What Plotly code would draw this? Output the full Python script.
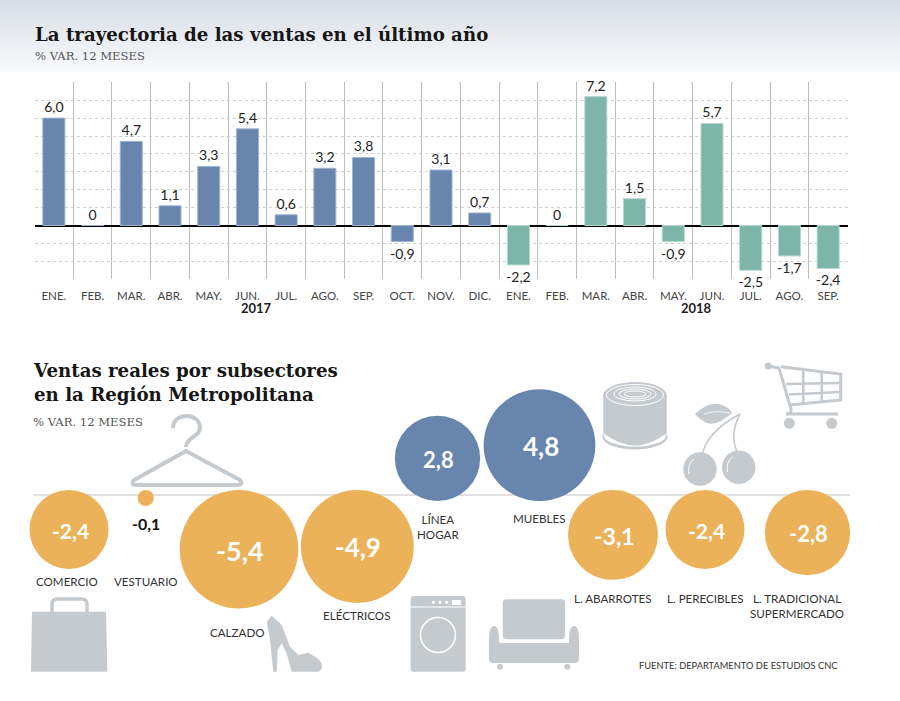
import numpy as np
import plotly.graph_objects as go

# first chart: % var. 12 months
months = ['ENE.', 'FEB.', 'MAR.', 'ABR.', 'MAY.', 'JUN.', 'JUL.', 'AGO.', 'SEP.', 'OCT.', 'NOV.', 'DIC.',
          'ENE.', 'FEB.', 'MAR.', 'ABR.', 'MAY.', 'JUN.', 'JUL.', 'AGO.', 'SEP.']
sales_2017 = [6.0, 0, 4.7, 1.1, 3.3, 5.4, 0.6, 3.2, 3.8, -0.9, 3.1, 0.7]
sales_2018 = [-2.2, 0, 7.2, 1.5, -0.9, 5.7, -2.5, -1.7, -2.4]

# second chart: subsectors
sectors = ['COMERCIO', 'VESTUARIO', 'CALZADO', 'ELÉCTRICOS', 'LÍNEA<br>HOGAR', 'MUEBLES',
           'L. ABARROTES', 'L. PERECIBLES', 'L. TRADICIONAL<br>SUPERMERCADO']
sector_values = [-2.4, -0.1, -5.4, -4.9, 2.8, 4.8, -3.1, -2.4, -2.8]

# page layout, in pixels of the 900x701 picture
W, H = 900, 701
bubble_x = [69, 145.7, 239, 357.3, 437.5, 539.5, 613, 705, 807.5]
sector_label_x = [67.3, 145.7, 237.3, 356, 438, 539.3, 613.3, 705, 797.3]
sector_label_y = [581.7, 581.7, 632.3, 615.3, 526.5, 518.3, 598.3, 598.3, 606.3]
PX_PER_SQRT = 25.5  # bubble radius per sqrt(|value|)

BLUE = '#6785ad'
GREEN = '#7eb5a9'
ORANGE = '#ecb25a'
GREY = '#c5cacf'
SANS = 'Lato'
SERIF = 'DejaVu Serif'


def fmt(v):
    return '0' if v == 0 else f'{v:.1f}'.replace('.', ',')


def note(x, y, text, size=12, color='#333333', family=SANS, anchor='center'):
    return dict(x=x, y=y, xref='x2', yref='y2', text=text, showarrow=False, xanchor=anchor, yanchor='middle',
                font=dict(family=family, size=size, color=color), align=anchor)


def solid(path, color=GREY):
    return dict(type='path', path=path, xref='x2', yref='y2', fillcolor=color, line_width=0, layer='above')


def stroke(path, width, color=GREY):
    return dict(type='path', path=path, xref='x2', yref='y2', line=dict(color=color, width=width), layer='above')


def oval(cx, cy, rx, ry=None, fill=GREY, line=None, width=0):
    ry = rx if ry is None else ry
    return dict(type='circle', x0=cx - rx, x1=cx + rx, y0=cy - ry, y1=cy + ry, xref='x2', yref='y2',
                fillcolor=fill, line=dict(color=line or 'rgba(0,0,0,0)', width=width), layer='above')


fig = go.Figure()

# header band
fig.add_trace(go.Scatter(x=[0, W, W, 0], y=[0, 0, 72, 72], xaxis='x2', yaxis='y2', mode='none', fill='toself',
                         fillgradient=dict(type='vertical', colorscale=[[0, '#f8f9fb'], [1, '#d8dee6']]),
                         hoverinfo='skip'))

idx = np.arange(len(months))
for xs, vals, color, edge in [(idx[:12], sales_2017, BLUE, '#a3b6cf'), (idx[12:], sales_2018, GREEN, '#b5d8d0')]:
    fig.add_trace(go.Bar(x=xs, y=vals, width=0.57, marker=dict(color=color, line=dict(color=edge, width=1)),
                         text=[fmt(v) for v in vals], textposition='outside', cliponaxis=False,
                         textfont=dict(family=SANS, size=14, color='#222222'), constraintext='none'))

# bubbles: area follows the value, negatives hang from the line
sizes = np.abs(sector_values)
radii = PX_PER_SQRT * np.sqrt(sizes)
bubble_y = [501 - r if v > 0 else 490 + r for v, r in zip(sector_values, radii)]
fig.add_trace(go.Scatter(x=bubble_x, y=bubble_y, xaxis='x2', yaxis='y2', mode='markers', hoverinfo='skip',
                         marker=dict(size=sizes, sizemode='area', sizeref=1 / (2 * PX_PER_SQRT ** 2), opacity=1,
                                     color=[BLUE if v > 0 else ORANGE for v in sector_values], line_width=0)))

annotations = [
    note(33, 34, '<b>La trayectoria de las ventas en el último año</b>', 18.2, '#161616', SERIF, 'left'),
    note(33, 55.5, '% VAR. 12 MESES', 11.6, '#555555', SERIF, 'left'),
    note(31, 382.5, '<b>Ventas reales por subsectores<br>en la Región Metropolitana</b>', 18.2, '#161616', SERIF, 'left'),
    note(31, 422, '% VAR. 12 MESES', 11.6, '#555555', SERIF, 'left'),
    note(256, 308, '<b>2017</b>', 13, '#222222'),
    note(696, 308, '<b>2018</b>', 13, '#222222'),
    note(637, 665, 'FUENTE: DEPARTAMENTO DE ESTUDIOS CNC', 9.3, '#333333', SANS, 'left'),
]

for name, lx, ly in zip(sectors, sector_label_x, sector_label_y):
    annotations.append(note(lx, ly, name, 11.6))
for v, x, y, r in zip(sector_values, bubble_x, bubble_y, radii):
    if r < 20:
        annotations.append(note(x, y + 25, f'<b>{fmt(v)}</b>', 16, '#111111'))
    else:
        annotations.append(note(x + 1, y + 1, f'<b>{fmt(v)}</b>', round(9 + r * 0.31), '#ffffff'))

shapes = [
    dict(type='line', x0=33, x1=850, y0=495, y1=495, xref='x2', yref='y2', line=dict(color='#dfe1e3', width=2),
         layer='below'),
    # hanger
    stroke('M173,428 C173,412 200,412 200,428 C200,437 186,437 186,447', 4),
    stroke('M186,451 L134,480 Q130,485 137,485 L237,485 Q244,485 240,480 Z', 4),
    # bag
    solid('M32,611.7 L106,611.7 L107.3,671.7 L31,671.7 Z'),
    stroke('M52,612 L52,604 Q52,599 58,599 L81,599 Q87,599 87,604 L87,612', 3.5),
    # shoe
    solid('M271.7,615.7 L266.7,621.7 L270,640 L273.3,671.7 L276.7,671.7 L277.7,650 L281.7,643.3 L286.7,653.3 '
          'L291.7,671.7 L318.3,671.7 Q323,670 321.7,664 Q320,659 312,655 L308.3,652.7 L298.3,655 L290,646.7 '
          'L281.7,625 Z'),
    # washer
    solid('M410.7,599 Q410.7,596 413.7,596 L462.7,596 Q465.7,596 465.7,599 L465.7,668.7 Q465.7,671.7 462.7,671.7 '
          'L413.7,671.7 Q410.7,671.7 410.7,668.7 Z'),
    dict(type='line', x0=410.7, x1=465.7, y0=607, y1=607, xref='x2', yref='y2', line=dict(color='#ffffff', width=1.2),
         layer='above'),
    oval(433.3, 602.3, 1.5, fill='#ffffff'), oval(440, 602.3, 1.5, fill='#ffffff'), oval(446.7, 602.3, 1.5, fill='#ffffff'),
    dict(type='rect', x0=452, x1=461, y0=600, y1=605, xref='x2', yref='y2', fillcolor='#ffffff', line_width=0, layer='above'),
    oval(438, 635, 17.5, fill=GREY, line='#ffffff', width=1.5),
    # sofa
    solid('M502.7,603 Q502.7,599.3 506.4,599.3 L561.3,599.3 Q565,599.3 565,603 L565,635.6 Q565,639.3 561.3,639.3 '
          'L506.4,639.3 Q502.7,639.3 502.7,635.6 Z'),
    solid('M489,640 Q489,626 494,626 Q499,626 499,640 L499,643 L569,643 L569,640 Q569,626 574,626 Q579,626 579,640 '
          'L579,659 Q579,663 575,663 L493,663 Q489,663 489,659 Z'),
    oval(500, 666.7, 3), oval(567.3, 666.7, 3),
    # can
    oval(635, 437, 32.5, 12.5), oval(635, 435.5, 31, 11, fill='#ffffff'),
    solid('M603.3,396 L603.3,433 Q635,458 666.7,433 L666.7,396 Z'),
    oval(635, 396, 32, 14, line='#ffffff', width=0),
    oval(635, 395, 28.5, 10.5, line='#ffffff', width=1),
    oval(635, 394, 21, 7, line='#ffffff', width=1),
    oval(635, 394, 16, 5, line='#ffffff', width=1),
    oval(635, 394, 11, 3, line='#ffffff', width=1),
    # cherries
    stroke('M701.7,456.7 Q706,432 740,414', 1.6),
    stroke('M739.3,456.7 Q728,436 740,414', 1.6),
    solid('M695,414 Q710,400 722,405 Q730,408 732,413 Q715,428 705,422 Q698,418 695,414 Z'),
    stroke('M704,414 Q716,410 730,413', 0.8, '#ffffff'),
    oval(700, 469, 16.7), oval(738.7, 467.3, 16.7),
    stroke('M689,474 Q687,464 694,459', 1, '#ffffff'),
    stroke('M727.5,472 Q725.5,462 732.5,457', 1, '#ffffff'),
    # cart
    oval(768.3, 366, 3.5), oval(789.3, 423.3, 5.5), oval(831.7, 423.3, 5.5),
    stroke('M768.3,366 L779,368 L791,409 Q792,414 786,414', 3),
    stroke('M781,366.7 L840.7,374 L840.7,400 L790,405 M786,414 L838,414', 3),
    stroke('M786,384 L840.7,383 M789,394.5 L840.7,392 M803.3,369 L803.3,404 M821.7,371.5 L821.7,402', 2.5),
]

plot_top, plot_bottom = 82.3, 279.2
fig.update_layout(
    width=W, height=H, margin=dict(l=0, r=0, t=0, b=0), autosize=False, showlegend=False,
    plot_bgcolor='rgba(0,0,0,0)', paper_bgcolor='white', barmode='overlay',
    xaxis=dict(domain=[34.5 / W, 847.5 / W], range=[-0.5, len(months) - 0.5], tickmode='array', tickvals=idx,
               ticktext=months, tickangle=0, showgrid=False, zeroline=False, showline=False, ticks='outside', ticklen=6,
               tickcolor='rgba(0,0,0,0)', tickfont=dict(family=SANS, size=11.5, color='#444444'),
               minor=dict(tickmode='array', tickvals=np.arange(-0.5, len(months)), showgrid=True, gridcolor='#bdbdbd',
                          gridwidth=1.2, ticks='')),
    yaxis=dict(domain=[1 - plot_bottom / H, 1 - plot_top / H], range=[-3, 8], dtick=1, showticklabels=False,
               showgrid=True, gridcolor='#d0d0d0', griddash='dot', gridwidth=1, zeroline=True, zerolinecolor='#000000',
               zerolinewidth=1.5),
    xaxis2=dict(domain=[0, 1], range=[0, W], visible=False, anchor='y2'),
    yaxis2=dict(domain=[0, 1], range=[H, 0], visible=False, anchor='x2'),
    annotations=annotations, shapes=shapes,
)

fig.write_html("out.html", config=dict(displayModeBar=False), post_script="document.body.style.margin='0';")
